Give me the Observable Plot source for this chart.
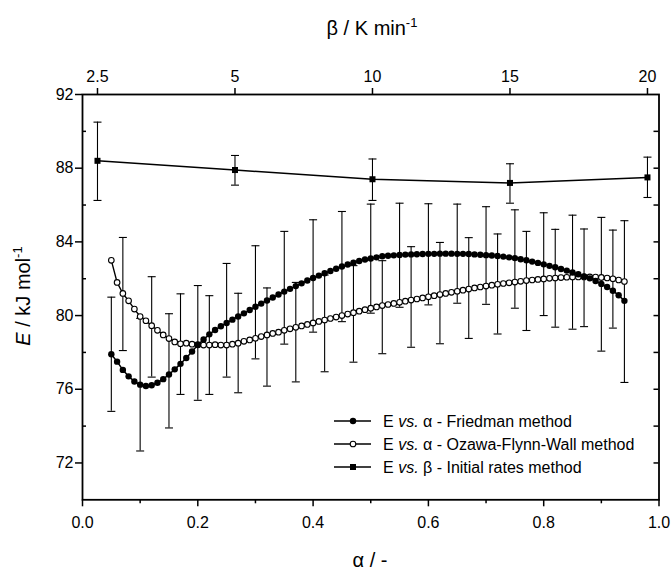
<!DOCTYPE html>
<html><head><meta charset="utf-8">
<script src="https://cdn.jsdelivr.net/npm/d3@7"></script>
<script src="https://cdn.jsdelivr.net/npm/@observablehq/plot@0.6"></script>
<style>
body{margin:0;background:#fff;}
#chart svg{font-family:"Liberation Sans",Arial,Helvetica,sans-serif;}
</style></head><body><div id="chart"></div>
<script>
// ---- data ----
const alpha = [0.05,0.06,0.07,0.08,0.09,0.10,0.11,0.12,0.13,0.14,0.15,0.16,0.17,0.18,0.19,0.20,0.21,0.22,0.23,0.24,0.25,0.26,0.27,0.28,0.29,0.30,0.31,0.32,0.33,0.34,0.35,0.36,0.37,0.38,0.39,0.40,0.41,0.42,0.43,0.44,0.45,0.46,0.47,0.48,0.49,0.50,0.51,0.52,0.53,0.54,0.55,0.56,0.57,0.58,0.59,0.60,0.61,0.62,0.63,0.64,0.65,0.66,0.67,0.68,0.69,0.70,0.71,0.72,0.73,0.74,0.75,0.76,0.77,0.78,0.79,0.80,0.81,0.82,0.83,0.84,0.85,0.86,0.87,0.88,0.89,0.90,0.91,0.92,0.93,0.94];
const friedmanE = [77.9,77.5,77.05,76.7,76.42,76.25,76.18,76.22,76.35,76.55,76.8,77.08,77.38,77.7,78.05,78.4,78.7,78.98,79.22,79.42,79.6,79.78,79.95,80.12,80.3,80.48,80.65,80.82,80.98,81.14,81.3,81.45,81.6,81.75,81.9,82.04,82.17,82.3,82.42,82.54,82.66,82.77,82.87,82.96,83.04,83.1,83.16,83.22,83.25,83.27,83.29,83.31,83.32,83.33,83.34,83.35,83.35,83.36,83.36,83.36,83.35,83.35,83.34,83.32,83.3,83.28,83.26,83.23,83.2,83.16,83.12,83.06,83.0,82.93,82.86,82.78,82.7,82.62,82.53,82.44,82.34,82.24,82.13,82.02,81.88,81.72,81.55,81.35,81.1,80.8];
const ozawaE = [83.0,81.8,81.2,80.8,80.35,79.95,79.72,79.45,79.2,78.95,78.75,78.57,78.47,78.5,78.45,78.42,78.4,78.4,78.42,78.4,78.4,78.45,78.5,78.6,78.68,78.77,78.86,78.95,79.03,79.1,79.2,79.28,79.36,79.44,79.52,79.6,79.68,79.76,79.84,79.92,80.0,80.08,80.16,80.24,80.32,80.4,80.47,80.54,80.6,80.66,80.72,80.78,80.84,80.9,80.96,81.02,81.08,81.14,81.2,81.26,81.32,81.38,81.44,81.5,81.55,81.6,81.65,81.7,81.74,81.78,81.82,81.86,81.9,81.93,81.96,81.99,82.02,82.04,82.06,82.08,82.1,82.1,82.1,82.1,82.09,82.07,82.04,82.0,81.93,81.85];

const friedmanErrAlpha = [0.05,0.10,0.15,0.20,0.25,0.30,0.35,0.40,0.45,0.50,0.55,0.60,0.65,0.70,0.75,0.80,0.85,0.90,0.94];
const friedmanErrLo = [74.8,72.65,73.9,75.4,76.66,77.65,78.45,79.1,79.67,80.13,80.45,80.58,80.67,80.61,80.4,80.0,79.26,78.07,76.37];
const friedmanErrHi = [81.0,79.85,80.1,81.63,82.83,83.79,84.57,85.2,85.65,86.05,86.1,86.07,86.05,85.91,85.74,85.58,85.45,85.33,85.15];

const ozawaErrAlpha = [0.07,0.12,0.17,0.22,0.27,0.32,0.37,0.42,0.47,0.52,0.57,0.62,0.67,0.72,0.77,0.82,0.87,0.92];
const ozawaErrLo = [78.1,76.66,75.72,75.72,75.81,76.17,76.4,76.95,77.47,77.93,78.28,78.47,78.76,79.0,79.19,79.37,79.4,79.32];
const ozawaErrHi = [84.24,82.11,81.18,81.08,81.21,81.5,81.8,82.2,82.71,82.98,83.74,83.97,84.23,84.43,84.57,84.68,84.7,84.64];

const betaLabels = ["2.5","5","10","15","20"];
const betaE = [88.4,87.9,87.4,87.2,87.5];
const betaLo = [86.25,87.08,86.25,86.1,86.41];
const betaHi = [90.5,88.69,88.5,88.24,88.6];

const xMajorTicks = [0,0.2,0.4,0.6,0.8,1.0];
const xMinorTicks = [0.1,0.3,0.5,0.7,0.9];
const yMajorTicks = [72,76,80,84,88,92];
const yMinorTicks = [74,78,82,86,90];
const yRightTicks = [72,74,76,78,80,82,84,86,88,90];

const legendLabels = ["\u03b1 - Friedman method","\u03b1 - Ozawa-Flynn-Wall method","\u03b2 - Initial rates method"];

// ---- tables ----
const friedman = alpha.map((a,i)=>({a, E: friedmanE[i]}));
const ozawa = alpha.map((a,i)=>({a, E: ozawaE[i]}));
const fErr = friedmanErrAlpha.map((a,i)=>({a, lo: friedmanErrLo[i], hi: friedmanErrHi[i]}));
const oErr = ozawaErrAlpha.map((a,i)=>({a, lo: ozawaErrLo[i], hi: ozawaErrHi[i]}));
// secondary (top) β axis: ordinal, evenly spaced over the α frame
const betaScale = d3.scalePoint().domain(betaLabels).range([0.026, 0.98]);
const beta = betaLabels.map((b,i)=>({a: betaScale(b), E: betaE[i], lo: betaLo[i], hi: betaHi[i]}));
const betaTickPos = betaLabels.map(b=>betaScale(b));
const betaFmt = new Map(betaLabels.map(b=>[betaScale(b), b]));

const allErr = [...fErr, ...oErr, ...beta];
const caps = allErr.flatMap(d=>[{a:d.a, v:d.lo},{a:d.a, v:d.hi}]);
const capSymbol = {draw(ctx){ctx.moveTo(-4,0); ctx.lineTo(4,0);}};

const W = 671, H = 577, mL = 82, mR = 12.5, mT = 94, mB = 77.7;
const innerW = W - mL - mR;
const FONT = '"Liberation Sans",Arial,Helvetica,sans-serif';

const chart = Plot.plot({
  width: W, height: H,
  marginLeft: mL, marginRight: mR, marginTop: mT, marginBottom: mB,
  style: {fontFamily: FONT, fontSize: "16px", color: "black", background: "white", overflow: "visible"},
  x: {domain: [0, 1]},
  y: {domain: [70, 92]},
  marks: [
    Plot.axisX(xMajorTicks, {anchor: "bottom", tickSize: 7, tickPadding: 10, tickFormat: d3.format(".1f"), label: null, strokeWidth: 1.5, fontSize: 16}),
    Plot.axisX(xMinorTicks, {anchor: "bottom", tickSize: 4, tickFormat: () => "", label: null, strokeWidth: 1.5}),
    Plot.axisX(betaTickPos, {anchor: "top", tickSize: 7, tickPadding: 6, tickFormat: d => betaFmt.get(d), label: null, strokeWidth: 1.5, fontSize: 16}),
    Plot.axisY(yMajorTicks, {anchor: "left", tickSize: 7, tickPadding: 2, label: null, strokeWidth: 1.5, fontSize: 16}),
    Plot.tickY(yMinorTicks, {y: d => d, insetRight: innerW - 4, stroke: "black", strokeWidth: 1.5}),
    Plot.tickY(yRightTicks, {y: d => d, insetLeft: innerW - 5, stroke: "black", strokeWidth: 1.5}),
    Plot.frame({stroke: "black", strokeWidth: 1.8}),
    Plot.ruleX(allErr, {x: "a", y1: "lo", y2: "hi", stroke: "black", strokeWidth: 1.1}),
    Plot.dot(caps, {x: "a", y: "v", symbol: capSymbol, r: 4, fill: "none", stroke: "black", strokeWidth: 1.1}),
    Plot.line(beta, {x: "a", y: "E", stroke: "black", strokeWidth: 1.5}),
    Plot.dot(beta, {x: "a", y: "E", symbol: "square", r: 3.4, fill: "black", stroke: "none"}),
    Plot.line(ozawa, {x: "a", y: "E", stroke: "black", strokeWidth: 1.4}),
    Plot.dot(ozawa, {x: "a", y: "E", r: 2.8, fill: "white", stroke: "black", strokeWidth: 1.1}),
    Plot.line(friedman, {x: "a", y: "E", stroke: "black", strokeWidth: 1.5}),
    Plot.dot(friedman, {x: "a", y: "E", r: 3.2, fill: "black", stroke: "none"})
  ]
});

const svg = d3.select(chart);
// axis titles
const t1 = svg.append("text").attr("x", 372).attr("y", 35).attr("text-anchor", "middle")
  .style("font-family", FONT).style("font-size", "20px").attr("fill", "black");
t1.append("tspan").text("\u03b2 / K min");
t1.append("tspan").attr("dy", -8).style("font-size", "13px").text("-1");

svg.append("text").attr("x", 370).attr("y", 567).attr("text-anchor", "middle")
  .style("font-family", FONT).style("font-size", "20px").attr("fill", "black").text("\u03b1 / -");

const t3 = svg.append("text").attr("transform", "translate(30,296) rotate(-90)").attr("text-anchor", "middle")
  .style("font-family", FONT).style("font-size", "20px").attr("fill", "black");
t3.append("tspan").style("font-style", "italic").text("E");
t3.append("tspan").text(" / kJ mol");
t3.append("tspan").attr("dy", -8).style("font-size", "13px").text("-1");

// legend
const legY = [421, 444, 467];
const lg = svg.append("g");
legendLabels.forEach((lab, i) => {
  const y = legY[i];
  lg.append("line").attr("x1", 334).attr("x2", 371).attr("y1", y).attr("y2", y).attr("stroke", "black").attr("stroke-width", 1.5);
  if (i === 0) lg.append("circle").attr("cx", 353).attr("cy", y).attr("r", 3.2).attr("fill", "black");
  if (i === 1) lg.append("circle").attr("cx", 353).attr("cy", y).attr("r", 2.8).attr("fill", "white").attr("stroke", "black").attr("stroke-width", 1.1);
  if (i === 2) lg.append("rect").attr("x", 350).attr("y", y - 3).attr("width", 6).attr("height", 6).attr("fill", "black");
  const tx = lg.append("text").attr("x", 383).attr("y", y + 5.5).attr("text-anchor", "start")
    .style("font-family", FONT).style("font-size", "16px").attr("fill", "black");
  tx.append("tspan").text("E ");
  tx.append("tspan").style("font-style", "italic").text("vs.");
  tx.append("tspan").text(" " + lab);
});

document.getElementById("chart").appendChild(chart);
</script></body></html>
